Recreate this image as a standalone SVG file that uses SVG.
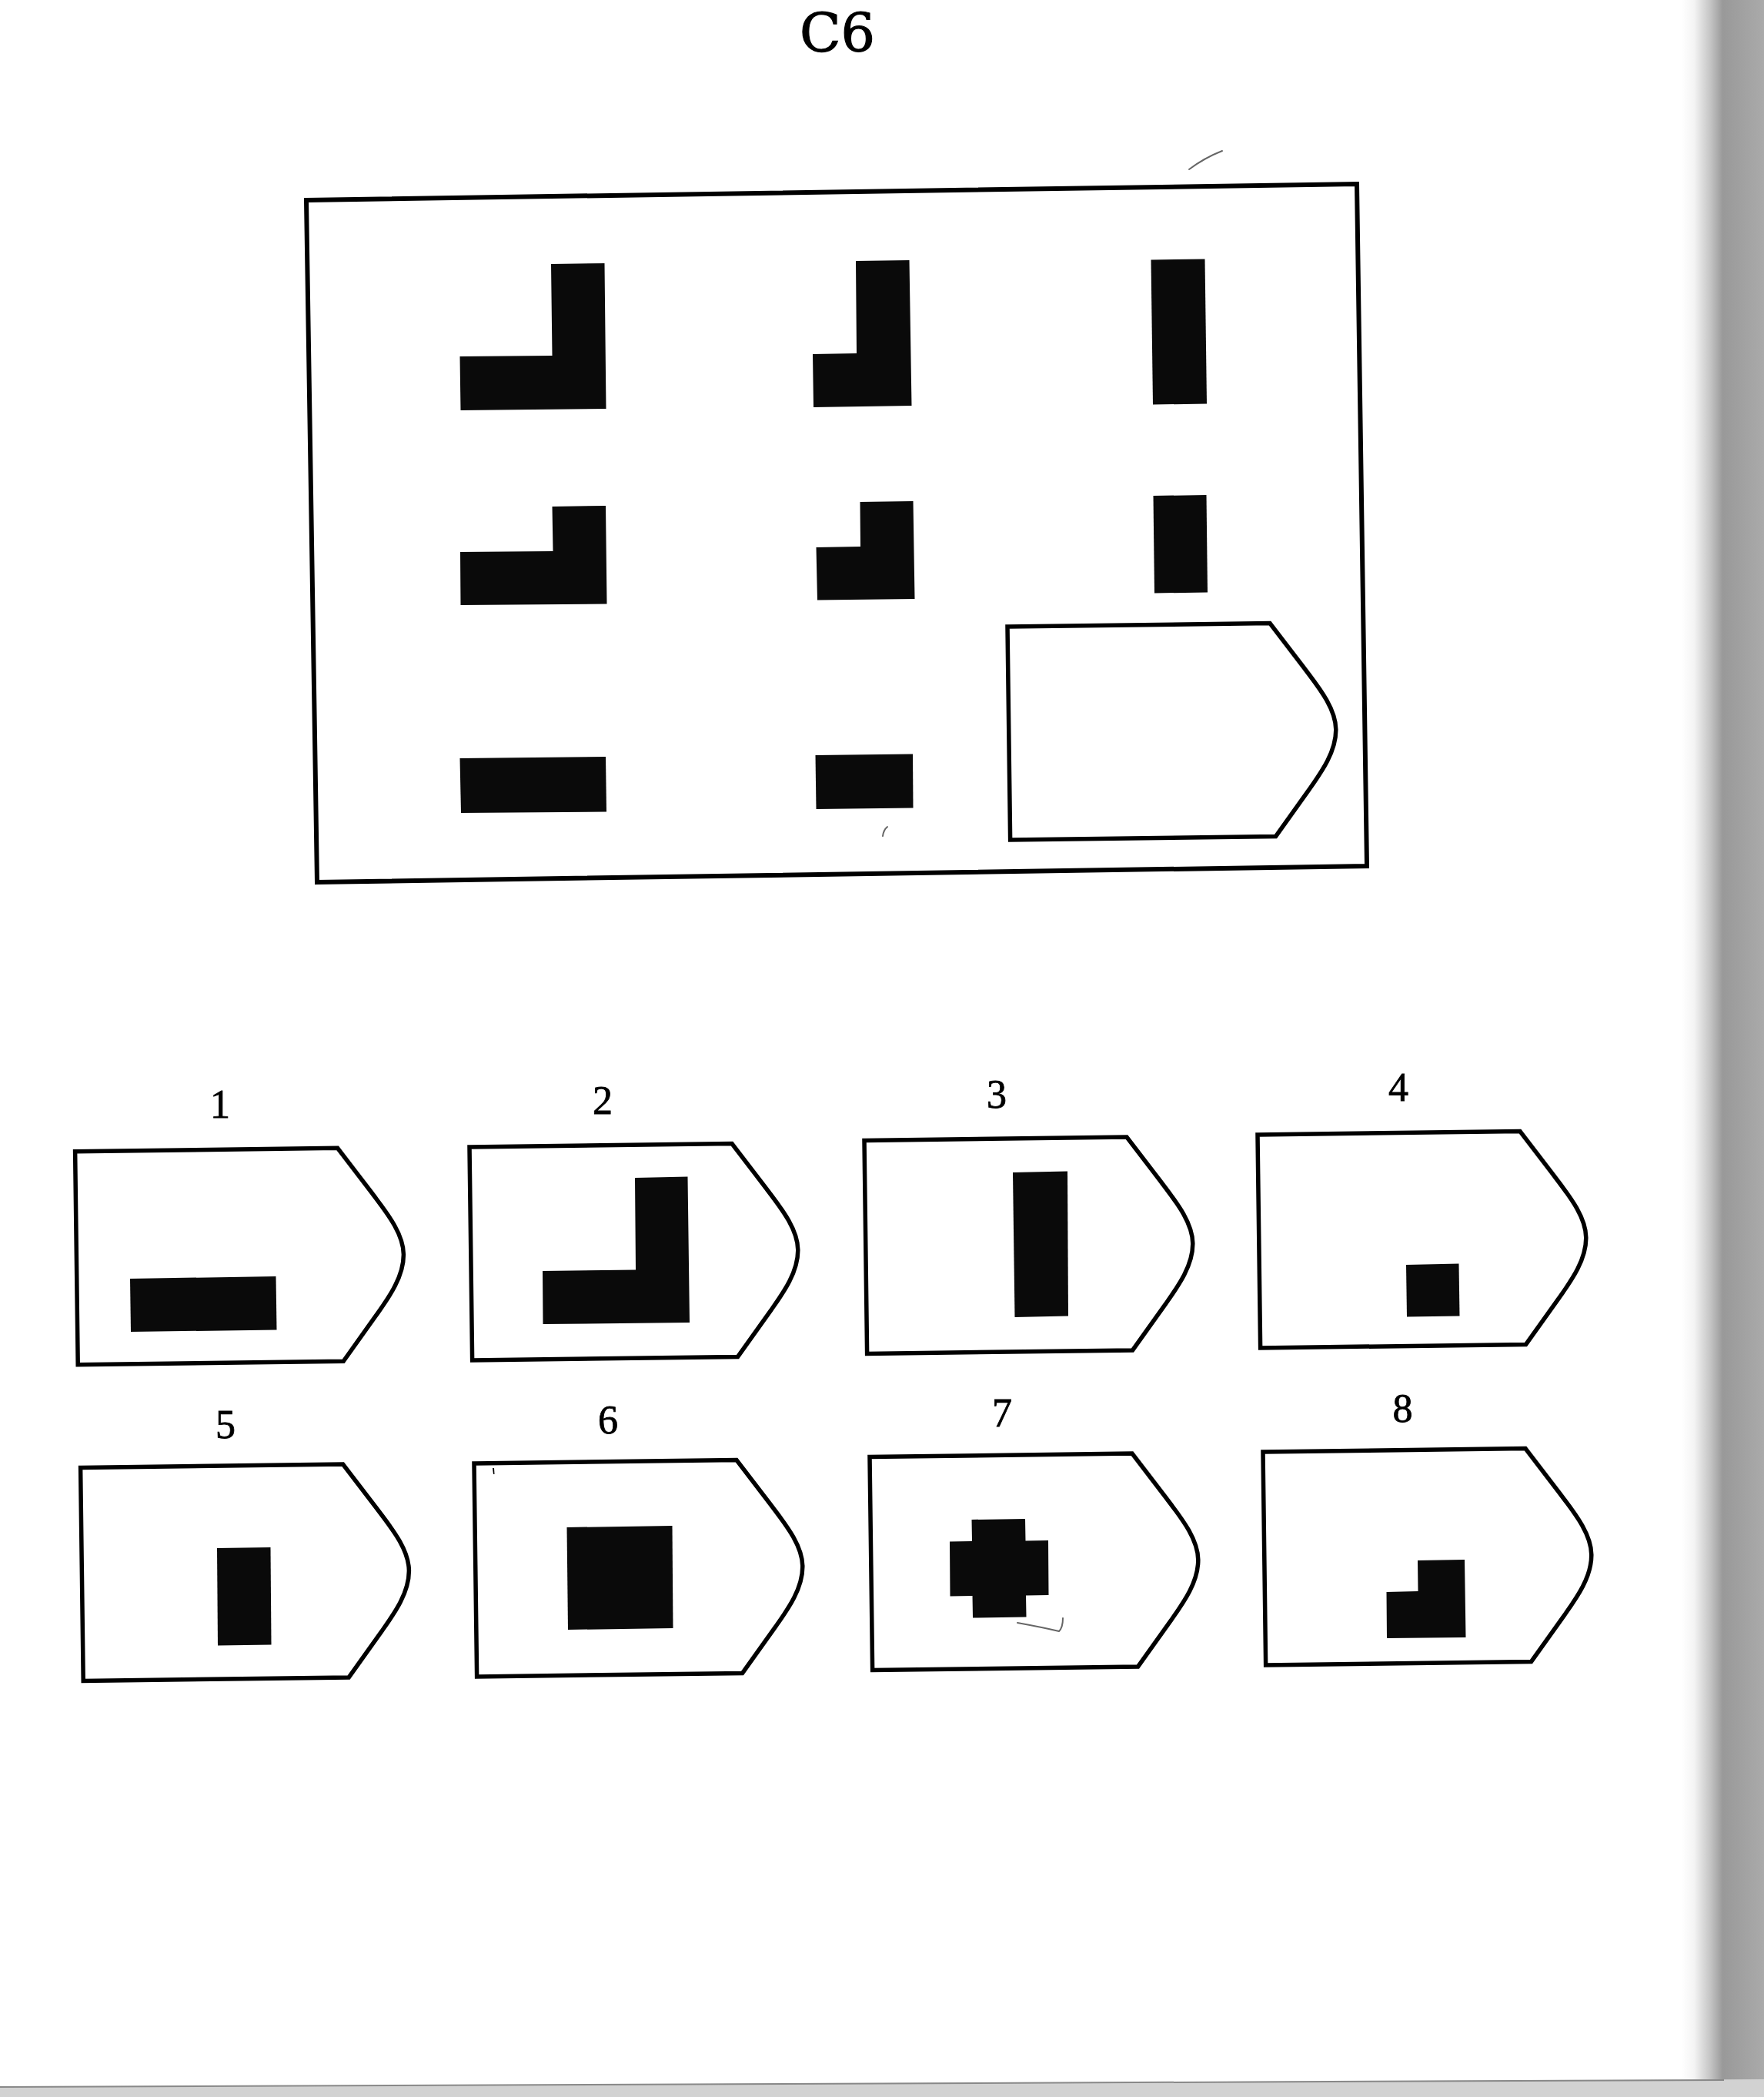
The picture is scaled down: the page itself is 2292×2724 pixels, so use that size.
<svg xmlns="http://www.w3.org/2000/svg" width="2292" height="2724" viewBox="0 0 2292 2724">
<style>
.frame{fill:none;stroke:#000;stroke-width:6;stroke-linejoin:miter}
.pent{fill:#fff;stroke:#000;stroke-width:5.5;stroke-linejoin:miter}
.fig{fill:#0a0a0a;stroke:none}
.num{font-family:"Liberation Serif","Times New Roman",serif;font-size:52px;fill:#000;stroke:#000;stroke-width:0.8;text-anchor:middle}
.title{font-family:"DejaVu Serif","Liberation Serif",serif;font-size:70px;fill:#000;stroke:#000;stroke-width:1.2;text-anchor:middle}
.mark{fill:none;stroke:#666;stroke-width:2;stroke-linecap:round}
</style>
<defs>
<path id="pentShape" d="M0,0 H341 L385,59 C400,80 425,110 425,139 C425,168 405,195 389,217 L345,277 H0 Z"/>
<linearGradient id="shadow" x1="2185" y1="0" x2="2292" y2="0" gradientUnits="userSpaceOnUse">
<stop offset="0" stop-color="#ffffff"/>
<stop offset="0.15" stop-color="#f4f4f4"/>
<stop offset="0.35" stop-color="#c4c4c4"/>
<stop offset="0.5" stop-color="#999999"/>
<stop offset="1" stop-color="#aaaaaa"/>
</linearGradient>
</defs>
<rect x="0" y="0" width="2292" height="2724" fill="#fff"/>
<rect x="2185" y="0" width="107" height="2724" fill="url(#shadow)"/>
<polygon points="0,2711 2292,2701 2292,2724 0,2724" fill="#d2d2d2"/>
<line x1="0" y1="2711" x2="2240" y2="2702" stroke="#888" stroke-width="2"/>

<g id="title"><text class="title" x="1088" y="67">C6</text></g>

<g id="matrix">
<polygon class="frame" points="398,260 1763,239 1776,1125 412,1146"/>
<g id="cell-1-1"><polygon class="fig" points="716,343 785.5,342 787.5,531 598.5,533 597.5,463 717.5,462"/></g>
<g id="cell-1-2"><polygon class="fig" points="1112,339 1181.5,338 1184.5,527 1057,529 1056,460 1113,459"/></g>
<g id="cell-1-3"><polygon class="fig" points="1495.5,337.5 1565.5,336.5 1568,524.5 1498,525.5"/></g>
<g id="cell-2-1"><polygon class="fig" points="717.5,658 787,657 788.5,784.5 598.5,786 598,717 718.5,716"/></g>
<g id="cell-2-2"><polygon class="fig" points="1117.5,652 1186.5,651 1188.5,778 1062,779.5 1060.5,711 1118,710"/></g>
<g id="cell-2-3"><polygon class="fig" points="1498.5,644 1567.5,643 1569,769.5 1500,770.5"/></g>
<g id="cell-3-1"><polygon class="fig" points="597.5,985 787,983 788,1054.5 599,1056"/></g>
<g id="cell-3-2"><polygon class="fig" points="1059.5,981 1186,979.5 1186.5,1049.5 1060.5,1051"/></g>
<g id="cell-3-3"><use href="#pentShape" class="pent" transform="translate(1309,814) rotate(-0.75)"/></g>
</g>

<g id="option-1">
<text class="num" x="286" y="1452">1</text>
<use href="#pentShape" class="pent" transform="translate(97.6,1495.8) rotate(-0.75)"/>
<polygon class="fig" points="169,1661 358.5,1658 359.5,1727.5 170,1730"/>
</g>
<g id="option-2">
<text class="num" x="783" y="1447">2</text>
<use href="#pentShape" class="pent" transform="translate(610,1490) rotate(-0.75)"/>
<polygon class="fig" points="825,1530 893.5,1528.5 896,1718 705.5,1720 705,1651 826,1649.5"/>
</g>
<g id="option-3">
<text class="num" x="1295" y="1439">3</text>
<use href="#pentShape" class="pent" transform="translate(1123,1481.5) rotate(-0.75)"/>
<polygon class="fig" points="1316,1523 1387,1521.5 1388,1709.5 1318.5,1711"/>
</g>
<g id="option-4">
<text class="num" x="1817" y="1430">4</text>
<use href="#pentShape" class="pent" transform="translate(1634,1474) rotate(-0.75)"/>
<polygon class="fig" points="1827,1643 1895.5,1641.5 1896.5,1709.5 1828,1710.5"/>
</g>
<g id="option-5">
<text class="num" x="293" y="1868">5</text>
<use href="#pentShape" class="pent" transform="translate(104.6,1906.5) rotate(-0.75)"/>
<polygon class="fig" points="282,2011 351.5,2010 352.5,2136.5 283,2137.5"/>
</g>
<g id="option-6">
<text class="num" x="790" y="1862">6</text>
<use href="#pentShape" class="pent" transform="translate(616,1901) rotate(-0.75)"/>
<polygon class="fig" points="736.5,1984 873.5,1982 874.5,2115 738,2117"/>
<path d="M640,1907 L642,1907 L642.5,1915 L641,1915 Z" fill="#000"/>
</g>
<g id="option-7">
<text class="num" x="1302" y="1853">7</text>
<use href="#pentShape" class="pent" transform="translate(1130,1892.5) rotate(-0.75)"/>
<polygon class="fig" points="1262.5,1974 1332,1973 1332.5,2001.5 1362,2001 1362.5,2072 1333,2072.5 1333.5,2100.5 1264,2101.5 1263.5,2073 1234.5,2073.5 1234,2002.5 1263,2002"/>
<path class="mark" d="M1322,2108 Q1355,2114 1376,2119 Q1381,2114 1381,2102" stroke="#aaa"/>
</g>
<g id="option-8">
<text class="num" x="1822.5" y="1847">8</text>
<use href="#pentShape" class="pent" transform="translate(1641,1886) rotate(-0.75)"/>
<polygon class="fig" points="1842,2027 1903,2026 1904.5,2127 1802,2128 1801.5,2068 1842.5,2067"/>
</g>

<g id="scan-marks">
<path class="mark" d="M1545,220 Q1565,205 1588,196" stroke="#555" stroke-width="2.5"/>
<path class="mark" d="M1147,1086 Q1148,1078 1153,1074" stroke="#bbb"/>
</g>
</svg>
